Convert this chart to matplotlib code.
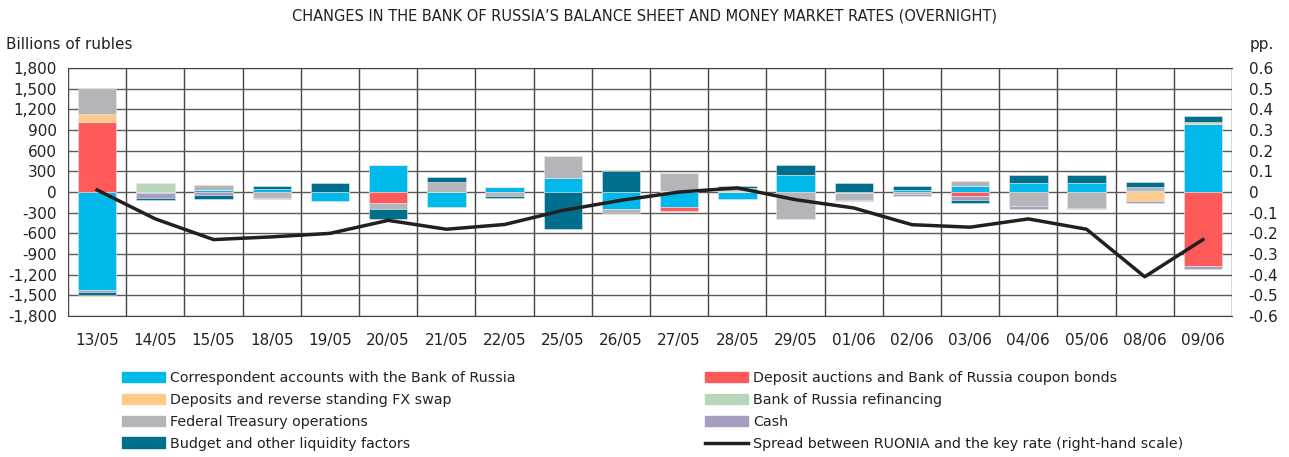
import numpy as np
import matplotlib.pyplot as plt
from matplotlib.patches import Patch
from matplotlib.lines import Line2D
from matplotlib.ticker import FuncFormatter

plt.rcParams['font.family'] = ['DejaVu Sans']

#Data (billions of rubles)
dates = ['13/05', '14/05', '15/05', '18/05', '19/05', '20/05', '21/05', '22/05', '25/05', '26/05',
         '27/05', '28/05', '29/05', '01/06', '02/06', '03/06', '04/06', '05/06', '08/06', '09/06']

corr_accounts = [-1420, -10, 25, 45, -130, 387, -210, 70, 203, -245, -210, -100, 252, -15, 35, 87, 130, 130, 15, 990]
auctions = [1016, 0, 0, 0, 0, -160, 0, 0, 0, 0, -70, 0, 0, 0, 0, -58, 0, 0, 0, -1080]
deposits_fx = [121, 0, 0, 0, 0, 0, 0, 0, 0, 0, 20, 15, 0, -5, 0, 0, 0, 0, -135, 34]
refinancing = [0, 125, 0, 0, 0, 0, 0, 0, 0, 0, 0, 0, 0, 0, 0, 0, 0, 0, 0, 0]
treasury = [353, 0, 82, -80, 0, -82, 140, -60, 315, -55, 255, 45, -387, -100, -25, 68, -208, -232, 58, 0]
cash = [-34, -70, -48, -20, 0, 0, 0, 0, 10, 0, 0, 0, -10, -5, -30, -53, -44, -20, -20, -34]
budget = [-48, -35, -58, 45, 135, -155, 77, -25, -532, 305, 0, 25, 135, 135, 55, -48, 121, 111, 77, 87]

#Spread RUONIA - key rate, pp.
spread = [0.01, -0.13, -0.23, -0.217, -0.20, -0.137, -0.18, -0.157, -0.089, -0.04,
          0.0, 0.02, -0.037, -0.077, -0.158, -0.17, -0.13, -0.18, -0.41, -0.23]

series = [
    ('Correspondent accounts with the Bank of Russia', corr_accounts, '#00B9EB'),
    ('Deposit auctions and Bank of Russia coupon bonds', auctions, '#FF5A5A'),
    ('Deposits and reverse standing FX swap', deposits_fx, '#FFCB88'),
    ('Bank of Russia refinancing', refinancing, '#B7D6BA'),
    ('Federal Treasury operations', treasury, '#B4B5B8'),
    ('Cash', cash, '#A79DC0'),
    ('Budget and other liquidity factors', budget, '#006F8E'),
]

fig = plt.figure(figsize=(12.89, 4.57), dpi=100)
ax = fig.add_axes([0.0528, 0.3085, 0.9030, 0.5425])
ax2 = ax.twinx()

x = np.arange(len(dates))
pos_base = np.zeros(len(dates))
neg_base = np.zeros(len(dates))
for name, vals, col in series:
    v = np.array(vals, dtype=float)
    bottom = np.where(v >= 0, pos_base, neg_base)
    ax.bar(x, v, 0.66, bottom=bottom, color=col, edgecolor='#e6e6e6', linewidth=0.4, zorder=3)
    pos_base += np.clip(v, 0, None)
    neg_base += np.clip(v, None, 0)

ax2.plot(x, spread, color='#231F20', lw=2.5, zorder=4)

#Axes
ax.set_xlim(-0.5, len(dates) - 0.5)
ax.set_ylim(-1800, 1800)
ax.set_yticks(np.arange(-1800, 1801, 300))
ax.yaxis.set_major_formatter(FuncFormatter(lambda v, p: f'{int(v):,}'))
ax2.set_ylim(-0.6, 0.6)
ax2.set_yticks(np.round(np.arange(-0.6, 0.61, 0.1), 1))
ax2.yaxis.set_major_formatter(FuncFormatter(lambda v, p: '0' if abs(v) < 1e-9 else f'{v:.1f}'))

ax.set_xticks(x)
ax.set_xticklabels(dates)
ax.set_xticks(np.arange(-0.5, len(dates), 1), minor=True)
ax.grid(True, axis='y', color='#5a5a5a', lw=1.0, zorder=0)
ax.grid(True, axis='x', which='minor', color='#444444', lw=1.0, zorder=0)
ax.grid(False, axis='x', which='major')
ax.tick_params(axis='both', which='both', length=0, labelsize=11, colors='#222222')
ax.tick_params(axis='y', pad=8)
ax.tick_params(axis='x', pad=12)
ax2.tick_params(axis='y', length=0, labelsize=11, colors='#222222', pad=12)
for s in list(ax.spines.values()) + list(ax2.spines.values()):
    s.set_visible(False)
ax.spines['bottom'].set_visible(True)
ax.spines['bottom'].set_color('#444444')
ax.spines['top'].set_visible(True)
ax.spines['top'].set_color('#444444')
ax.set_zorder(ax2.get_zorder() - 1)
ax2.patch.set_visible(False)

fig.text(0.5, 0.965, "CHANGES IN THE BANK OF RUSSIA’S BALANCE SHEET AND MONEY MARKET RATES (OVERNIGHT)",
         ha='center', va='center', fontsize=10.5, color='#222222')
fig.text(0.005, 0.902, 'Billions of rubles', ha='left', va='center', fontsize=11, color='#222222')
fig.text(0.988, 0.902, 'pp.', ha='right', va='center', fontsize=11, color='#222222')

#Legend: two separate columns
handles = [Patch(color=col, label=name) for name, vals, col in series]
line_h = Line2D([0], [0], color='#231F20', lw=2.5, label='Spread between RUONIA and the key rate (right-hand scale)')
left_col = [handles[0], handles[2], handles[4], handles[6]]
right_col = [handles[1], handles[3], handles[5], line_h]
leg_kw = dict(loc='upper left', frameon=False, fontsize=10.3, handlelength=3.0, handleheight=0.75,
              handletextpad=0.35, labelspacing=0.55, borderpad=0, borderaxespad=0, labelcolor='#222222')
fig.legend(left_col, [h.get_label() for h in left_col], bbox_to_anchor=(0.0946, 0.188), **leg_kw)
fig.legend(right_col, [h.get_label() for h in right_col], bbox_to_anchor=(0.547, 0.188), **leg_kw)

fig.savefig('out.png', dpi=100)
